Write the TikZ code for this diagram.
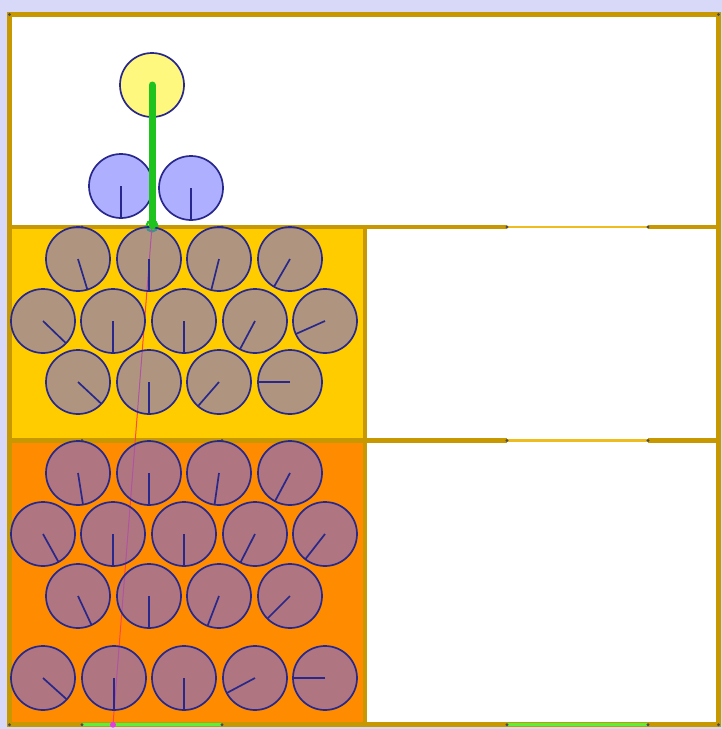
\documentclass[tikz,border=0pt]{standalone}
\usepackage{tikz}
\usetikzlibrary{positioning}
\usetikzlibrary{calc}

\definecolor{haze}{RGB}{216,216,248}
\definecolor{wallgold}{RGB}{200,152,0}
\definecolor{slitgold}{RGB}{238,188,30}
\definecolor{sandbed}{RGB}{255,204,0}
\definecolor{gravelbed}{RGB}{255,140,0}
\definecolor{grainblue}{RGB}{96,96,255}
\definecolor{grainedge}{RGB}{40,40,140}
\definecolor{rodgreen}{RGB}{30,195,30}
\definecolor{gategreen}{RGB}{90,240,60}
\definecolor{tracered}{RGB}{255,70,70}
\definecolor{footpink}{RGB}{230,60,220}

\begin{document}
\begin{tikzpicture}[x=1pt, y=-1pt,
    wall/.style={line width=4.5pt, draw=wallgold},
    slit/.style={line width=2.4pt, draw=slitgold},
    gate/.style={line width=3.5pt, draw=gategreen},
    joint/.style={fill=black!70},
    grain/.style={circle, draw=grainedge, fill=grainblue, fill opacity=0.5,
        line width=1.7pt, minimum size=64pt, inner sep=0pt, outer sep=0pt},
    sun/.style={grain, fill=yellow},
    spoke/.style={draw=grainedge, line width=1.7pt},
    rod/.style={draw=rodgreen, line width=7pt, line cap=round},
    ring/.style={circle, draw=rodgreen, line width=2.2pt, minimum size=11pt, inner sep=0pt},
    trace/.style={draw=tracered, line width=1pt}]

    % background and beds
    \useasboundingbox (0,0) rectangle (722,729);
    \fill[haze] (0,0) rectangle (722,729);
    \fill[white] (9.5,14.5) rectangle (718.5,724.7);
    \fill[sandbed] (9.5,227) rectangle (365,440.5);
    \fill[gravelbed] (9.5,440.5) rectangle (365,724.7);

    % walls
    \draw[wall] (9.5,14.5) rectangle (718.5,724.7);
    \foreach \y in {227,440.5} {
        \draw[wall] (9.5,\y) -- (507,\y);
        \draw[slit] (507,\y) -- (648,\y);
        \draw[wall] (648,\y) -- (718.5,\y);
    }
    \draw[wall] (365,227) -- (365,724.7);
    \draw[gate] (82,724.7) -- (222,724.7);
    \draw[gate] (507,724.7) -- (648,724.7);
    \foreach \y in {227,440.5,724.7}
        \foreach \x in {82,222,507,648}
            \fill[joint] (\x,\y) circle (1.6pt);
    \foreach \x/\y in {9.5/14.5,718.5/14.5,9.5/724.7,718.5/724.7}
        \fill[joint] (\x,\y) circle (1.6pt);

    % pendulum
    \node[ring] (pivot) at (152,226) {};
    \coordinate (foot) at (113,724.7);
    \draw[trace] (pivot.center) -- (foot);
    \fill[footpink] (foot) circle (3pt);

    % sand grains
    \foreach \x/\a [count=\i] in {78/-73,149/-90,219/-104,290/-120} {
        \node[grain] (y1\i) at (\x,259) {};
        \draw[spoke] (y1\i.center) -- (y1\i.\a);
    }
    \foreach \x/\a [count=\i] in {43/-44,113/-90,184/-90,255/-118,325/-156} {
        \node[grain] (y2\i) at (\x,321) {};
        \draw[spoke] (y2\i.center) -- (y2\i.\a);
    }
    \foreach \x/\a [count=\i] in {78/-43,149/-90,219/-131,290/180} {
        \node[grain] (y3\i) at (\x,382) {};
        \draw[spoke] (y3\i.center) -- (y3\i.\a);
    }

    % gravel grains
    \foreach \x/\a [count=\i] in {78/-81,149/-90,219/-98,290/-118} {
        \node[grain] (o1\i) at (\x,473) {};
        \draw[spoke] (o1\i.center) -- (o1\i.\a);
    }
    \foreach \x/\a [count=\i] in {43/-61,113/-90,184/-90,255/-117,325/-128} {
        \node[grain] (o2\i) at (\x,534) {};
        \draw[spoke] (o2\i.center) -- (o2\i.\a);
    }
    \foreach \x/\a [count=\i] in {78/-65,149/-90,219/-111,290/-135} {
        \node[grain] (o3\i) at (\x,596) {};
        \draw[spoke] (o3\i.center) -- (o3\i.\a);
    }
    \foreach \x/\a [count=\i] in {43/-42,114/-90,184/-90,255/-152,325/180} {
        \node[grain] (o4\i) at (\x,678) {};
        \draw[spoke] (o4\i.center) -- (o4\i.\a);
    }

    % free grains and bob
    \node[grain] (left) at (121,186) {};
    \node[grain] (right) at (191,188) {};
    \draw[spoke] (left.center) -- (left.-90);
    \draw[spoke] (right.center) -- (right.-90);
    \node[sun] (bob) at (152,85) {};
    \draw[rod] (bob.center) -- (pivot.center);

\end{tikzpicture}
\end{document}
